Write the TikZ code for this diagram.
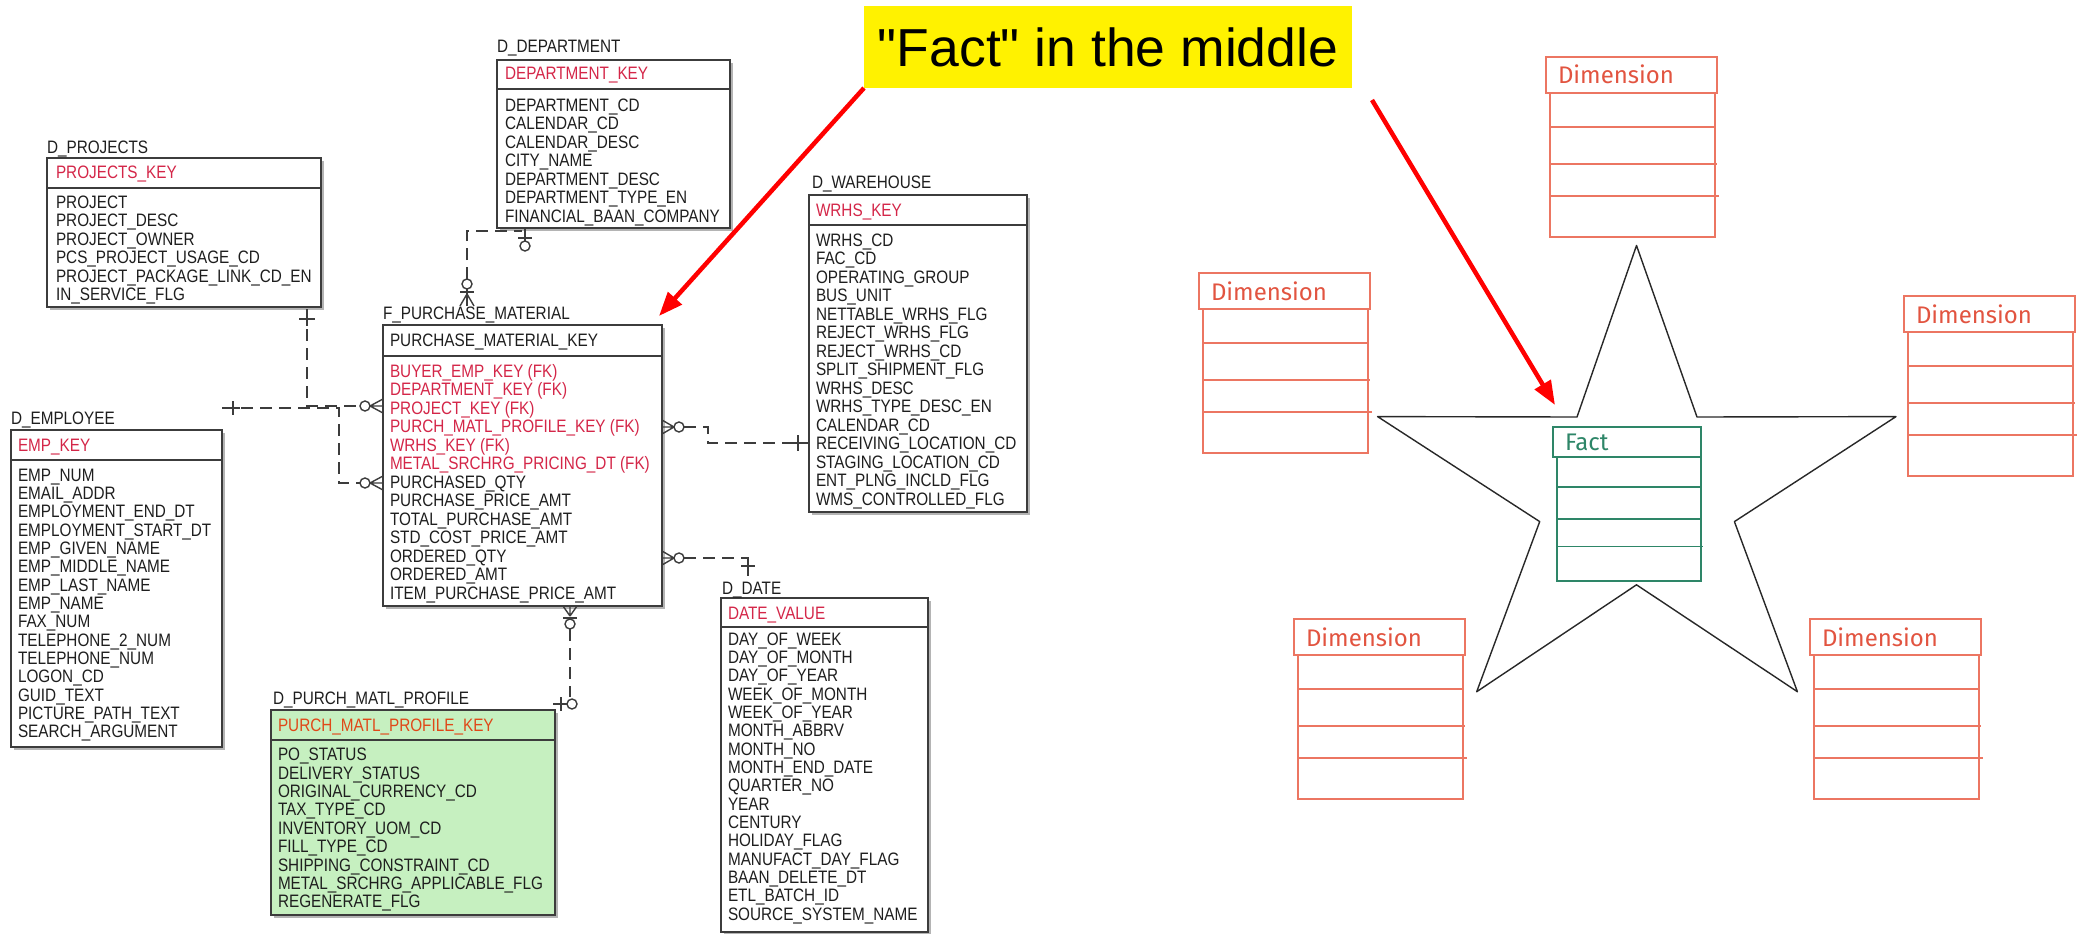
\documentclass[tikz,border=0pt]{standalone}
\usepackage{fontspec}
\usetikzlibrary{arrows.meta}
\newfontfamily\erfont[FakeStretch=0.85]{Liberation Sans}
\newfontfamily\yfont{Liberation Sans}
\newfontfamily\handfont{Fira Sans}
\definecolor{erline}{RGB}{60,60,60}
\definecolor{ertext}{RGB}{30,30,30}
\definecolor{erkey}{RGB}{212,38,72}
\definecolor{erkeyor}{RGB}{224,72,24}
\definecolor{ergreen}{RGB}{198,240,192}
\definecolor{ershadow}{RGB}{180,180,180}
\definecolor{dimc}{RGB}{236,118,98}
\definecolor{dimt}{RGB}{226,84,64}
\definecolor{factc}{RGB}{46,134,104}
\definecolor{starc}{RGB}{40,40,40}
\tikzset{
 tbl/.style={draw=erline, line width=1.6pt, inner sep=0pt, outer sep=0pt},
 sepl/.style={draw=erline, line width=2.6pt},
 ert/.style={font=\erfont\fontsize{18}{18}\selectfont, text=ertext, inner sep=0pt, outer sep=0pt, anchor=base west},
 rel/.style={draw=erline, line width=1.4pt, dash pattern=on 12pt off 7pt},
 sym/.style={draw=erline, line width=1.4pt},
 dimline/.style={draw=dimc, line width=1.3pt},
 factline/.style={draw=factc, line width=1.3pt},
 handt/.style={font=\handfont\fontsize{24}{26}\selectfont, inner sep=0pt, outer sep=0pt, anchor=base west},
 redarrow/.style={draw=red, line width=4.5pt, -{Triangle[length=24pt,width=18pt]}},
}
% name x1 y1 x2 y2 sep fill
\newcommand\ertbox[7]{%
  \fill[ershadow] ({#2+3},{#3+3}) rectangle ({#4+3},{#5+3});
  \node[tbl, fill=#7, anchor=north west, minimum width={(#4)-(#2)}, minimum height={(#5)-(#3)}] (#1) at (#2,#3) {};
  \draw[sepl] (#2,#6) -- (#4,#6);
}
% prefix x firstbaseline pitch color list
\newcommand\errows[6]{%
  \foreach \rtx [count=\ri] in {#6} {\node[ert, text=#5] (#1\ri) at (#2,{#3+(\ri-1)*#4}) {\rtx};}
}
\newcommand\dimbox[3]{%
  \node[draw=dimc, line width=1.3pt, minimum width=171pt, minimum height=36pt, anchor=north west, inner sep=0pt, outer sep=0pt] (#1) at (#2,#3) {};
  \node[handt, text=dimt] (#1-t) at ({#2+12},{#3+27}) {Dimension};
  \draw[dimline] ({#2+4},{#3+36}) -- ({#2+4},{#3+180}) -- ({#2+169},{#3+180}) -- ({#2+169},{#3+36});
  \draw[dimline] ({#2+4},{#3+70}) -- ({#2+169},{#3+70});
  \draw[dimline] ({#2+4},{#3+107}) -- ({#2+171},{#3+107});
  \draw[dimline] ({#2+4},{#3+139}) -- ({#2+173},{#3+139});
}
\begin{document}
\begin{tikzpicture}[x=1pt,y=-1pt]
\useasboundingbox[fill=white] (0,0) rectangle (2078,934);

% ---------- D_PROJECTS
\ertbox{proj}{47}{158}{321}{307}{188}{white}
\node[ert] (proj-title) at (47,153) {D\_PROJECTS};
\node[ert, text=erkey] (proj-key) at (56,178) {PROJECTS\_KEY};
\errows{proj-r}{56}{208}{18.5}{ertext}{PROJECT,PROJECT\_DESC,PROJECT\_OWNER,PCS\_PROJECT\_USAGE\_CD,PROJECT\_PACKAGE\_LINK\_CD\_EN,IN\_SERVICE\_FLG}

% ---------- D_DEPARTMENT
\ertbox{dept}{497}{60}{730}{228}{89}{white}
\node[ert] (dept-title) at (497,53) {D\_DEPARTMENT};
\node[ert, text=erkey] (dept-key) at (505,79) {DEPARTMENT\_KEY};
\errows{dept-r}{505}{111}{18.5}{ertext}{DEPARTMENT\_CD,CALENDAR\_CD,CALENDAR\_DESC,CITY\_NAME,DEPARTMENT\_DESC,DEPARTMENT\_TYPE\_EN,FINANCIAL\_BAAN\_COMPANY}

% ---------- F_PURCHASE_MATERIAL
\ertbox{fact}{383}{325}{662}{606}{356}{white}
\node[ert] (fact-title) at (383,319) {F\_PURCHASE\_MATERIAL};
\node[ert] (fact-key) at (390,346) {PURCHASE\_MATERIAL\_KEY};
\errows{fact-fk}{390}{377}{18.5}{erkey}{BUYER\_EMP\_KEY (FK),DEPARTMENT\_KEY (FK),PROJECT\_KEY (FK),PURCH\_MATL\_PROFILE\_KEY (FK),WRHS\_KEY (FK),METAL\_SRCHRG\_PRICING\_DT (FK)}
\errows{fact-r}{390}{488}{18.5}{ertext}{PURCHASED\_QTY,PURCHASE\_PRICE\_AMT,TOTAL\_PURCHASE\_AMT,STD\_COST\_PRICE\_AMT,ORDERED\_QTY,ORDERED\_AMT,ITEM\_PURCHASE\_PRICE\_AMT}

% ---------- D_WAREHOUSE
\ertbox{wrhs}{809}{195}{1027}{512}{225}{white}
\node[ert] (wrhs-title) at (812,188) {D\_WAREHOUSE};
\node[ert, text=erkey] (wrhs-key) at (816,216) {WRHS\_KEY};
\errows{wrhs-r}{816}{246}{18.5}{ertext}{WRHS\_CD,FAC\_CD,OPERATING\_GROUP,BUS\_UNIT,NETTABLE\_WRHS\_FLG,REJECT\_WRHS\_FLG,REJECT\_WRHS\_CD,SPLIT\_SHIPMENT\_FLG,WRHS\_DESC,WRHS\_TYPE\_DESC\_EN,CALENDAR\_CD,RECEIVING\_LOCATION\_CD,STAGING\_LOCATION\_CD,ENT\_PLNG\_INCLD\_FLG,WMS\_CONTROLLED\_FLG}

% ---------- D_EMPLOYEE
\ertbox{emp}{11}{430}{222}{747}{460}{white}
\node[ert] (emp-title) at (11,424) {D\_EMPLOYEE};
\node[ert, text=erkey] (emp-key) at (18,451) {EMP\_KEY};
\errows{emp-r}{18}{481}{18.35}{ertext}{EMP\_NUM,EMAIL\_ADDR,EMPLOYMENT\_END\_DT,EMPLOYMENT\_START\_DT,EMP\_GIVEN\_NAME,EMP\_MIDDLE\_NAME,EMP\_LAST\_NAME,EMP\_NAME,FAX\_NUM,TELEPHONE\_2\_NUM,TELEPHONE\_NUM,LOGON\_CD,GUID\_TEXT,PICTURE\_PATH\_TEXT,SEARCH\_ARGUMENT}

% ---------- D_DATE
\ertbox{date}{721}{598}{928}{932}{627}{white}
\node[ert] (date-title) at (722,594) {D\_DATE};
\node[ert, text=erkey] (date-key) at (728,619) {DATE\_VALUE};
\errows{date-r}{728}{645}{18.35}{ertext}{DAY\_OF\_WEEK,DAY\_OF\_MONTH,DAY\_OF\_YEAR,WEEK\_OF\_MONTH,WEEK\_OF\_YEAR,MONTH\_ABBRV,MONTH\_NO,MONTH\_END\_DATE,QUARTER\_NO,YEAR,CENTURY,HOLIDAY\_FLAG,MANUFACT\_DAY\_FLAG,BAAN\_DELETE\_DT,ETL\_BATCH\_ID,SOURCE\_SYSTEM\_NAME}

% ---------- D_PURCH_MATL_PROFILE
\ertbox{prof}{271}{710}{555}{915}{740}{ergreen}
\node[ert] (prof-title) at (273,704) {D\_PURCH\_MATL\_PROFILE};
\node[ert, text=erkeyor] (prof-key) at (278,731.6) {PURCH\_MATL\_PROFILE\_KEY};
\errows{prof-r}{278}{760.6}{18.4}{ertext}{PO\_STATUS,DELIVERY\_STATUS,ORIGINAL\_CURRENCY\_CD,TAX\_TYPE\_CD,INVENTORY\_UOM\_CD,FILL\_TYPE\_CD,SHIPPING\_CONSTRAINT\_CD,METAL\_SRCHRG\_APPLICABLE\_FLG,REGENERATE\_FLG}

% ---------- relationships
% projects - fact
\coordinate (pj1) at (307,310);
\coordinate (pj2) at (360,406);
\draw[rel] (pj1) |- (pj2);
\draw[sym] (307,309) -- (307,326);
\draw[sym] (299,319) -- (315,319);
\draw[sym] (365,406) circle[radius=5pt];
\draw[sym] (370,406) -- (383,399) (370,406) -- (383,406) (370,406) -- (383,413);
% employee - fact
\coordinate (em1) at (222,408);
\coordinate (em2) at (339,408);
\coordinate (em3) at (360,483);
\draw[rel] (em1) -- (em2) |- (em3);
\draw[sym] (222,408) -- (240,408);
\draw[sym] (233,401) -- (233,415);
\draw[sym] (365,483) circle[radius=5pt];
\draw[sym] (370,483) -- (383,476) (370,483) -- (383,483) (370,483) -- (383,490);
% department - fact
\coordinate (dp1) at (467,279);
\coordinate (dp2) at (522,231);
\draw[rel] (dp1) |- (dp2);
\draw[sym] (525,229) -- (525,241);
\draw[sym] (518,238) -- (532,238);
\draw[sym] (525,246) circle[radius=5pt];
\draw[sym] (467,284) circle[radius=5pt];
\draw[sym] (460,292) -- (474,292);
\draw[sym] (467,289) -- (467,306);
\draw[sym] (467,294) -- (460,306) (467,294) -- (474,306);
% fact - warehouse
\coordinate (wh1) at (684,427);
\coordinate (wh2) at (807,443);
\draw[rel] (wh1) -- ++(24,0) |- (wh2);
\draw[sym] (674,427) -- (662,420) (674,427) -- (662,427) (674,427) -- (662,434);
\draw[sym] (679,427) circle[radius=5pt];
\draw[sym] (790,443) -- (809,443);
\draw[sym] (798,435) -- (798,451);
% fact - date
\coordinate (dt1) at (684,558);
\coordinate (dt2) at (748,576);
\draw[rel] (dt1) -| (dt2);
\draw[sym] (674,558) -- (662,551) (674,558) -- (662,558) (674,558) -- (662,565);
\draw[sym] (679,558) circle[radius=5pt];
\draw[sym] (748,558) -- (748,576);
\draw[sym] (741,566) -- (755,566);
% fact - purch profile
\coordinate (pu1) at (570,629);
\coordinate (pu2) at (570,697);
\draw[rel] (pu1) -- (pu2);
\draw[sym] (570,616) -- (563,606) (570,616) -- (570,606) (570,616) -- (577,606);
\draw[sym] (563,618) -- (577,618);
\draw[sym] (570,624) circle[radius=5pt];
\draw[sym] (572,704) circle[radius=5pt];
\draw[sym] (553,704) -- (567,704);
\draw[sym] (561,697) -- (561,711);

% ---------- label and arrows
\node[fill=yellow, anchor=north west, minimum width=488pt, minimum height=82pt, inner sep=0pt, outer sep=0pt, font=\yfont\fontsize{53.5}{60}\selectfont] (label) at (864,6) {"Fact" in the middle};
\coordinate (arrA) at (659,316);
\draw[redarrow] (label.south west) -- (arrA);
\coordinate (arrBs) at (1372,100);
\coordinate (arrBe) at (1555,405);
\draw[redarrow] (arrBs) -- (arrBe);

% ---------- star
\draw[starc, line width=1.4pt, line join=round] (1636.5,245.5) -- (1697,417) -- (1896,416.6) -- (1734.4,521.6) -- (1797.4,691.7) -- (1636.5,584.8) -- (1476.7,691.7) -- (1539.7,521.6) -- (1377.6,416.6) -- (1577,417) -- cycle;

% ---------- dimension boxes
\dimbox{dimtop}{1546}{57}
\dimbox{dimleft}{1199}{273}
\dimbox{dimright}{1904}{296}
\dimbox{dimbl}{1294}{619}
\dimbox{dimbr}{1810}{619}

% ---------- fact box
\node[draw=factc, line width=1.3pt, minimum width=148pt, minimum height=30pt, anchor=north west, inner sep=0pt, outer sep=0pt] (factbox) at (1553,427) {};
\node[handt, text=factc] (factbox-t) at (1565,450) {Fact};
\draw[factline] (1557,457) -- (1557,581) -- (1701,581) -- (1701,457);
\draw[factline] (1557,487) -- (1701,487);
\draw[factline] (1557,519) -- (1701,519);
\draw[factline] (1557,546.5) -- (1703,546.5);
\end{tikzpicture}
\end{document}
